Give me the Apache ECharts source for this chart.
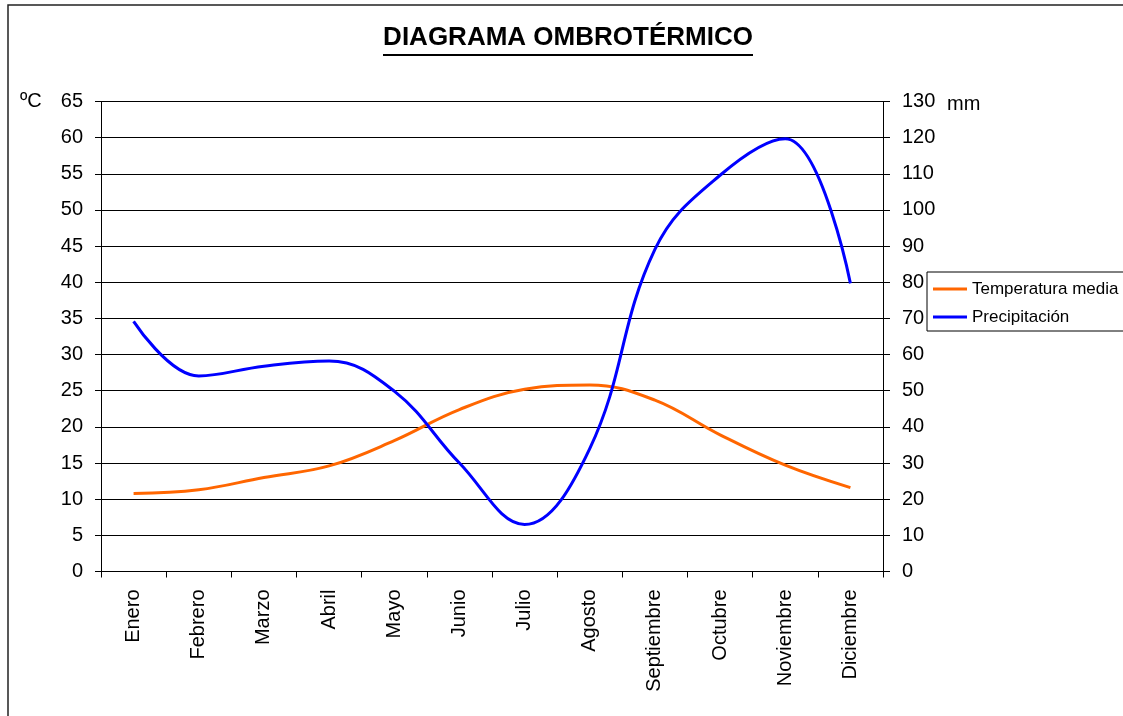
<!DOCTYPE html>
<html>
<head>
<meta charset="utf-8">
<script src="https://cdn.jsdelivr.net/npm/echarts@6/dist/echarts.min.js"></script>
<style>
html,body{margin:0;padding:0;background:#fff;}
#c{width:1123px;height:716px;}
</style>
</head>
<body>
<div id="c"></div>
<script>
const categories = ['Enero','Febrero','Marzo','Abril','Mayo','Junio','Julio','Agosto','Septiembre','Octubre','Noviembre','Diciembre'];
const temperatura = [10.8, 11.3, 13.0, 14.6, 18.1, 22.4, 25.2, 25.8, 23.7, 18.9, 14.7, 11.6];
const precipitacion = [69.2, 54.1, 56.8, 58.2, 49.9, 30.0, 13.0, 34.0, 89.1, 109.6, 119.7, 79.7];
const titleText = 'DIAGRAMA OMBROTÉRMICO';
const leftUnit = 'ºC';
const rightUnit = 'mm';

const FONT = '"Liberation Sans", Arial, sans-serif';
const chart = echarts.init(document.getElementById('c'), null, {renderer: 'canvas'});
chart.setOption({
  backgroundColor: '#fff',
  animation: false,
  grid: {left: 101, right: 240, top: 101.5, bottom: 144.5, containLabel: false},
  graphic: [
    {type: 'rect', shape: {x: 8, y: 5, width: 1130, height: 720}, style: {fill: null, stroke: '#222', lineWidth: 1.5}, silent: true},
    {type: 'text', x: 568, y: 38, style: {text: titleText, font: 'bold 26px ' + FONT, fill: '#000', align: 'center', verticalAlign: 'middle'}},
    {type: 'line', shape: {x1: 383, y1: 55, x2: 753, y2: 55}, style: {stroke: '#000', lineWidth: 2}},
    {type: 'text', x: 20, y: 101, style: {text: leftUnit, font: '20px ' + FONT, fill: '#000', verticalAlign: 'middle'}},
    {type: 'text', x: 947, y: 104, style: {text: rightUnit, font: '20px ' + FONT, fill: '#000', verticalAlign: 'middle'}}
  ],
  legend: {
    orient: 'vertical',
    left: 927, top: 272,
    padding: [8, 60, 5, 6],
    borderColor: '#000', borderWidth: 1,
    icon: 'rect',
    itemWidth: 34, itemHeight: 3, itemGap: 10,
    textStyle: {fontFamily: FONT, fontSize: 17, color: '#000', lineHeight: 18},
    data: ['Temperatura media', 'Precipitación']
  },
  xAxis: {
    type: 'category',
    data: categories,
    boundaryGap: true,
    axisLine: {lineStyle: {color: '#000', width: 1}},
    axisTick: {show: true, length: 6, alignWithLabel: false, lineStyle: {color: '#000'}},
    axisLabel: {rotate: 90, margin: 18, fontFamily: FONT, fontSize: 20, color: '#000', interval: 0}
  },
  yAxis: [
    {
      type: 'value', min: 0, max: 65, interval: 5, position: 'left',
      axisLine: {show: true, lineStyle: {color: '#000', width: 1}},
      axisTick: {show: true, length: 6, lineStyle: {color: '#000'}},
      axisLabel: {margin: 18, fontFamily: FONT, fontSize: 20, color: '#000'},
      splitLine: {show: true, lineStyle: {color: '#000', width: 1}}
    },
    {
      type: 'value', min: 0, max: 130, interval: 10, position: 'right',
      axisLine: {show: true, lineStyle: {color: '#000', width: 1}},
      axisTick: {show: true, length: 7, lineStyle: {color: '#000'}},
      axisLabel: {margin: 19, fontFamily: FONT, fontSize: 20, color: '#000'},
      splitLine: {show: false}
    }
  ],
  series: [
    {
      name: 'Temperatura media', type: 'line', yAxisIndex: 0, data: temperatura,
      smooth: 0.4, symbol: 'none', lineStyle: {color: '#FF6600', width: 3}, itemStyle: {color: '#FF6600'}
    },
    {
      name: 'Precipitación', type: 'line', yAxisIndex: 1, data: precipitacion,
      smooth: 0.4, symbol: 'none', lineStyle: {color: '#0000FF', width: 3}, itemStyle: {color: '#0000FF'}
    }
  ]
});
</script>
</body>
</html>
